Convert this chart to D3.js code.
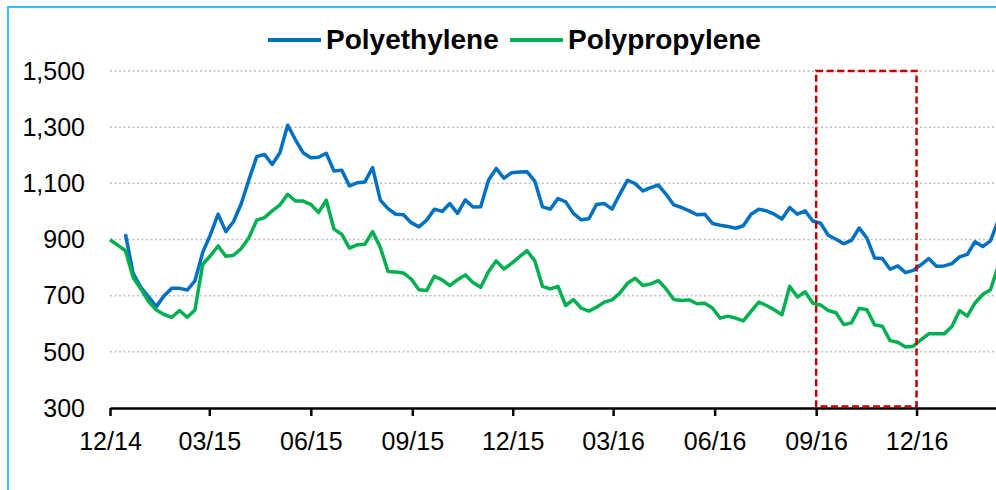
<!DOCTYPE html>
<meta charset="utf-8">
<style>
body { margin: 0; background: #fff; }
svg { display: block; font-family: "Liberation Sans", Arial, sans-serif; }
.grid line { stroke: #bfbfbf; stroke-width: 1.5px; stroke-dasharray: 2 2.5; }
.axis--x path, .axis--x line { stroke: #000; stroke-width: 2.5px; }
.axis text { fill: #000; font-size: 25px; }
.line { fill: none; stroke-width: 3.5px; stroke-linejoin: round; }
</style>
<svg width="996" height="490"></svg>
<script src="https://d3js.org/d3.v7.min.js"></script>
<script>

// weekly observations, first week starting 12/01/2014
var startDate = new Date(2014, 11, 1);
var weeks = 116;

var seriesNames = ["Polyethylene", "Polypropylene"];
var seriesColors = ["#0070c0", "#00b050"];

var polyethylene = [null, null,
  919, 779, 730, 696, 661, 700, 726, 726, 720, 753, 854, 917, 990, 928, 964, 1028, 1114, 1195, 1203, 1167, 1209, 1307, 1256, 1209, 1191, 1193, 1207,
  1144, 1147, 1091, 1102, 1105, 1156, 1040, 1010, 990, 988, 960, 945, 969, 1008, 1000, 1028, 993, 1041, 1016, 1017, 1111, 1153, 1118, 1138, 1140, 1141, 1108, 1016, 1008,
  1046, 1034, 993, 970, 974, 1025, 1028, 1008, 1061, 1111, 1099, 1073, 1085, 1094, 1061, 1023, 1014, 1002, 988, 990, 957, 951, 946, 940, 949, 990, 1008, 1002,
  990, 973, 1014, 990, 1002, 966, 958, 915, 901, 885, 897, 941, 905, 834, 832, 794, 806, 782, 790, 810, 832, 805, 806, 814, 838, 847, 892, 875, 895,
  968];

var polypropylene = [
  899, 880, 860, 765, 724, 679, 649, 633, 623, 647, 623, 649, 812, 842, 877, 840, 844, 868, 907, 969, 978, 1002, 1023, 1061, 1037, 1037, 1025, 996, 1040,
  937, 919, 869, 881, 883, 928, 872, 786, 784, 781, 759, 721, 718, 769, 756, 736, 757, 774, 747, 730, 785, 824, 795, 815, 838, 860, 824, 733, 724,
  733, 665, 686, 656, 645, 659, 677, 685, 709, 744, 762, 736, 742, 754, 724, 686, 683, 685, 671, 673, 656, 620, 627, 620, 610, 644, 677, 665,
  650, 632, 733, 695, 714, 673, 667, 647, 639, 597, 603, 655, 650, 596, 591, 540, 534, 517, 520, 543, 564, 564, 564, 590, 647, 627, 674, 704, 721,
  805];

var tickLabels = ["12/14", "03/15", "06/15", "09/15", "12/15", "03/16", "06/16", "09/16", "12/16"];
var yTicks = [300, 500, 700, 900, 1100, 1300, 1500];

// highlighted window
var highlight = { from: "09/16", to: "12/16", low: 300, high: 1500 };

var parseTick = d3.timeParse("%m/%y");
var dates = d3.range(weeks).map(function(i) { return d3.timeWeek.offset(startDate, i); });

var svg = d3.select("svg");

var x = d3.scaleTime()
    .domain([startDate, new Date(2017, 1, 11)])
    .range([110, 996]);

var y = d3.scaleLinear()
    .domain([300, 1500])
    .range([408, 71]);

// frame
svg.append("rect")
    .attr("x", 8).attr("y", 7)
    .attr("width", 1000).attr("height", 500)
    .attr("fill", "none")
    .attr("stroke", "#3cbcf4")
    .attr("stroke-width", 2);

// gridlines
svg.append("g")
    .attr("class", "grid")
  .selectAll("line")
  .data(yTicks.slice(1))
  .enter().append("line")
    .attr("x1", x.range()[0])
    .attr("x2", x.range()[1])
    .attr("y1", function(d) { return y(d); })
    .attr("y2", function(d) { return y(d); });

// y labels (no axis line)
svg.append("g")
    .attr("class", "axis axis--y")
  .selectAll("text")
  .data(yTicks)
  .enter().append("text")
    .attr("x", 85)
    .attr("y", function(d) { return y(d); })
    .attr("dy", "0.35em")
    .attr("text-anchor", "end")
    .text(d3.format(","));

// series
var series = [polyethylene, polypropylene];
var line = d3.line()
    .defined(function(d) { return d != null; })
    .x(function(d, i) { return x(dates[i]); })
    .y(function(d) { return y(d); });

series.forEach(function(s, k) {
  svg.append("path")
      .datum(s)
      .attr("class", "line")
      .attr("stroke", seriesColors[k])
      .attr("d", line);
});

// x axis
var xAxis = d3.axisBottom(x)
    .tickValues(tickLabels.map(parseTick))
    .tickFormat(d3.timeFormat("%m/%y"))
    .tickSize(8)
    .tickSizeOuter(0);

var gx = svg.append("g")
    .attr("class", "axis axis--x")
    .attr("transform", "translate(0,408)")
    .call(xAxis);
gx.selectAll("text").attr("y", 24);
gx.attr("font-family", null).attr("font-size", null);

// red dashed box
svg.append("rect")
    .attr("x", x(parseTick(highlight.from)))
    .attr("y", y(highlight.high))
    .attr("width", x(parseTick(highlight.to)) - x(parseTick(highlight.from)))
    .attr("height", y(highlight.low) - y(highlight.high) - 1.5)
    .attr("fill", "none")
    .attr("stroke", "#c00000")
    .attr("stroke-width", 2.5)
    .attr("stroke-dasharray", "7 3.5");

// legend
var legendPos = [268, 510];
var legend = svg.append("g").attr("class", "legend");
seriesNames.forEach(function(name, k) {
  legend.append("line")
      .attr("x1", legendPos[k]).attr("x2", legendPos[k] + 53)
      .attr("y1", 40).attr("y2", 40)
      .attr("stroke", seriesColors[k])
      .attr("stroke-width", 4);
  legend.append("text")
      .attr("x", legendPos[k] + 58)
      .attr("y", 49)
      .attr("font-size", 28)
      .attr("font-weight", "bold")
      .text(name);
});

</script>
